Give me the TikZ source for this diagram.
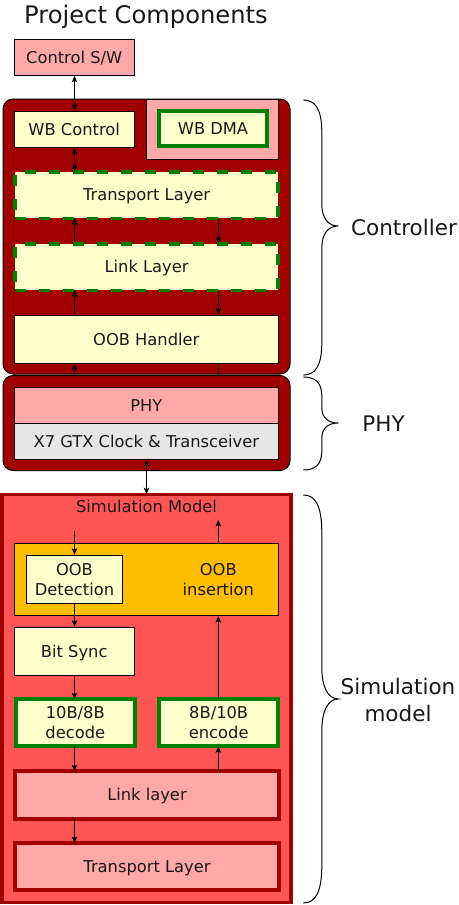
\documentclass[tikz,border=0pt]{standalone}
\usepackage{fontspec}
\setmainfont{DejaVu Sans}
\usetikzlibrary{arrows.meta}
\definecolor{dred}{HTML}{A00000}
\definecolor{pinkc}{HTML}{FFA8A8}
\definecolor{lyel}{HTML}{FFFFCC}
\definecolor{simred}{HTML}{FF5555}
\definecolor{orng}{HTML}{FFBF00}
\definecolor{grayc}{HTML}{E6E6E6}
\definecolor{grn}{HTML}{008000}
\newcommand\boxfont{\fontsize{16.3}{20}\selectfont}
\newcommand\lblfont{\fontsize{21.5}{26.5}\selectfont}
\newcommand\ttlfont{\fontsize{24.2}{28}\selectfont}
\newcommand\bracefig[6]{% x0, ytop, ybot, ytip, endlen, tiplen
  \draw[bracel] (#1,#2) .. controls ({#1+12},#2) and ({#1+18},{#2+0.3*#5}) .. ({#1+18.5},{#2+#5})
    -- ({#1+18.5},{#4-#6}) .. controls ({#1+18.5},{#4-0.35*#6}) and ({#1+25},#4) .. ({#1+35},#4)
    .. controls ({#1+25},#4) and ({#1+18.5},{#4+0.35*#6}) .. ({#1+18.5},{#4+#6})
    -- ({#1+18.5},{#3-#5}) .. controls ({#1+18},{#3-0.3*#5}) and ({#1+12},#3) .. (#1,#3);}
\tikzset{
  bx/.style={draw=black, line width=1pt, inner sep=0pt, font=\boxfont, align=center, text=black!90},
  oneln/.style={text height=11.9pt, text depth=0pt},
  lyfill/.style={fill=lyel},
  greenbox/.style={bx, draw=grn, line width=4pt, fill=lyel},
  dashbox/.style={bx, oneln, draw=grn, line width=3.5pt, fill=lyel, dash pattern=on 11pt off 13pt},
  redbox/.style={bx, oneln, draw=dred, line width=4pt, fill=pinkc},
  outerbox/.style={draw=black, line width=1pt, fill=dred, rounded corners=10pt, inner sep=0pt},
  lbl/.style={font=\lblfont, align=center, inner sep=0pt, text=black!90},
  arr/.style={-{Stealth[length=6.5pt,width=5.5pt,inset=1.5pt]}, line width=1pt},
  dbl/.style={{Stealth[length=6.5pt,width=5.5pt,inset=1.5pt]}-{Stealth[length=6.5pt,width=5.5pt,inset=1.5pt]}, line width=1pt},
  ln/.style={line width=1pt},
  bracel/.style={line width=1pt, black}
}
\begin{document}
\begin{tikzpicture}[x=1pt, y=-1pt]
\useasboundingbox (0,0) rectangle (458,905);
\coordinate (L) at (74.5,0);
\coordinate (R) at (218.3,0);
\coordinate (M) at (146.5,0);

\node[anchor=base, font=\ttlfont, inner sep=0pt, text=black!90] (title) at (146,23.3) {Project Components};

\node[bx, oneln, fill=pinkc, minimum width=120pt, minimum height=36pt] (ctrlsw) at (74.2,57.3) {Control S/W};

% Controller
\node[outerbox, minimum width=287pt, minimum height=275pt] (ctrl) at (146.5,236.5) {};
\node[bx, fill=pinkc, minimum width=132pt, minimum height=60pt] (dmareg) at (212,129) {};
\node[greenbox, oneln, minimum width=107.4pt, minimum height=34.7pt] (dma) at (213,128.7) {WB DMA};
\node[bx, oneln, lyfill, minimum width=120pt, minimum height=36pt] (wbctrl) at (74.2,129.3) {WB Control};
\node[dashbox, minimum width=263pt, minimum height=46.5pt] (ttl) at (146.6,195) {Transport Layer};
\node[dashbox, minimum width=263pt, minimum height=46.5pt] (tll) at (146.6,267) {Link Layer};
\node[bx, oneln, lyfill, minimum width=264.5pt, minimum height=48pt] (oobh) at (146.3,339.2) {OOB Handler};

% PHY
\node[outerbox, minimum width=287pt, minimum height=95pt] (phyo) at (146.5,423) {};
\node[bx, oneln, fill=pinkc, minimum width=264.5pt, minimum height=36pt] (phy) at (146.3,405.3) {PHY};
\node[bx, oneln, fill=grayc, minimum width=264.5pt, minimum height=36pt] (gtx) at (146.3,441.3) {X7 GTX Clock \& Transceiver};

% Simulation model
\node[draw=dred, line width=3.5pt, fill=simred, inner sep=0pt, minimum width=289.2pt, minimum height=407.8pt] (sim) at (146.4,698.4) {};
\node[anchor=base, font=\boxfont, inner sep=0pt, text=black!90] (simt) at (146.5,512.6) {Simulation Model};
\node[bx, fill=orng, minimum width=264.5pt, minimum height=72.3pt] (oobreg) at (146.3,579.5) {};
\node[bx, lyfill, minimum width=96.3pt, minimum height=48pt] (oobdet) at (74.5,579.3) {OOB\\Detection};
\node[font=\boxfont, align=center, inner sep=0pt, text=black!90] (oobins) at (218.3,579.3) {OOB\\insertion};
\node[bx, oneln, lyfill, minimum width=120pt, minimum height=48pt] (bsync) at (74.2,651.3) {Bit Sync};
\node[greenbox, minimum width=118.7pt, minimum height=47pt] (dec) at (75.3,722.8) {10B/8B\\decode};
\node[greenbox, minimum width=118.7pt, minimum height=47pt] (enc) at (218.7,722.8) {8B/10B\\encode};
\node[redbox, minimum width=263.4pt, minimum height=47.4pt] (slink) at (147,795) {Link layer};
\node[redbox, minimum width=263.4pt, minimum height=47.3pt] (strans) at (147,866.7) {Transport Layer};

\coordinate (simin) at (74.5,530.5);
\coordinate (simout) at (218.3,520);

% connectors
\draw[dbl] (ctrlsw.south -| L) -- (wbctrl.north -| L);
\draw[dbl] (wbctrl.south -| L) -- ([yshift=-1.5pt]ttl.north -| L);
\draw[arr] (tll.north -| L) -- ([yshift=1.5pt]ttl.south -| L);
\draw[arr] (ttl.south -| R) -- ([yshift=-1.5pt]tll.north -| R);
\draw[arr] (oobh.north -| L) -- ([yshift=1.5pt]tll.south -| L);
\draw[arr] (tll.south -| R) -- (oobh.north -| R);
\draw[arr] (phyo.north -| L) -- (oobh.south -| L);
\draw[ln] (oobh.south -| R) -- (phyo.north -| R);
\draw[dbl] (gtx.south -| M) -- ([yshift=-1.5pt]sim.north -| M);
\draw[arr] (simin) -- (oobdet.north -| L);
\draw[arr] (oobreg.north -| R) -- (simout);
\draw[arr] (oobdet.south -| L) -- (bsync.north -| L);
\draw[arr] (bsync.south -| L) -- ([yshift=-2pt]dec.north -| L);
\draw[arr] ([yshift=-2pt]enc.north -| R) -- (oobreg.south -| R);
\draw[arr] ([yshift=2pt]dec.south -| L) -- ([yshift=-2pt]slink.north -| L);
\draw[arr] ([yshift=-2pt]slink.north -| R) -- ([yshift=2pt]enc.south -| R);
\draw[arr] ([yshift=2pt]slink.south -| L) -- ([yshift=-2pt]strans.north -| L);

% braces and labels
\bracefig{303.3}{100}{375}{226}{30}{22}
\bracefig{303.3}{377}{470}{423}{18}{15}
\bracefig{303.3}{495}{903}{699}{35}{32}
\node[lbl, text height=15.6pt, text depth=0pt] (lctrl) at (404,227.5) {Controller};
\node[lbl, text height=15.6pt, text depth=0pt] (lphy) at (383.5,423.3) {PHY};
\node[lbl] (lsim) at (398,700) {Simulation\\model};
\end{tikzpicture}
\end{document}
